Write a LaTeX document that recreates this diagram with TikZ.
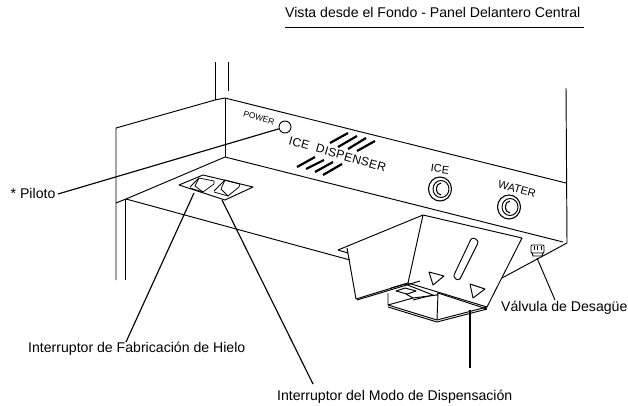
\documentclass[tikz,border=0pt]{standalone}
\usepackage{fontspec}
\setmainfont{Liberation Sans}
\newfontfamily\spacedfont[LetterSpace=3]{Liberation Sans}
\tikzset{
  ln/.style={line width=0.95pt,black,line join=round},
  thin ln/.style={line width=0.75pt,black,line join=round},
  leader/.style={line width=1.15pt,black},
  hatchbar/.style={line width=2.2pt,black},
  lbl/.style={inner sep=0pt,anchor=west,font=\fontsize{14.1}{16}\selectfont},
  paneltxt/.style={inner sep=0pt,text=black},
}
\begin{document}
\begin{tikzpicture}[x=1pt,y=-1pt]
\useasboundingbox (0,0) rectangle (628,406);
\fill[white] (0,0) rectangle (628,406);
% title
\node[lbl] (title) at (285,12) {Vista desde el Fondo - Panel Delantero Central};
\coordinate (ua) at (285,27); \coordinate (ub) at (584,27);
\draw[line width=0.8pt] (ua) -- (ub);
% cabinet
\draw[ln] (215,62) -- (215,100);
\draw[ln] (228,62) -- (228,91);
\draw[ln] (116,280) -- (116,128) -- (215,100) -- (225,98) -- (566,183);
\draw[ln] (225,98) -- (225,157);
\draw[ln] (225,157) -- (563,242);
\draw[ln] (566,88) -- (567,243) -- (502,278);
\draw[ln] (225,157) -- (126,199) -- (116,203);
\draw[ln] (126,199) -- (350,260);
\draw[ln] (125,199) -- (125,280);
% plate
\draw[ln] (179,185) -- (203,175) -- (253,187) -- (225,200) -- cycle;
\draw[thin ln] (190,187) -- (199,178) -- (214,181) -- (214,184) -- (203,192) -- (190,188);
\draw[thin ln] (199,178) -- (195,186) -- (203,192);
\draw[thin ln] (214,191) -- (225,180) -- (240,184) -- (239,187) -- (228,196) -- (214,192);
\draw[thin ln] (225,180) -- (221,189) -- (228,196);
% hatch
\foreach \a/\b/\c/\d in {330/143/348/133,338/147/357/136,348/149/366/138,357/151/375/141}
  \draw[hatchbar] (\a,\b) -- (\c,\d);
\foreach \a/\b/\c/\d in {297/167/315/157,306/169/324/160,315/172/333/162,323/175/342/164}
  \draw[hatchbar] (\a,\b) -- (\c,\d);
% panel text
\node[paneltxt,rotate=-16,font=\fontsize{8.4}{10}\selectfont] (pw) at (259,118) {POWER};
\node[paneltxt,rotate=-16,font=\fontsize{12}{14}\spacedfont] (disp) at (337.5,154) {ICE\ \ DISPENSER};
\node[paneltxt,rotate=-8,font=\fontsize{11}{13}\selectfont] (ice) at (440,169) {ICE};
\node[paneltxt,rotate=-16,font=\fontsize{11}{13}\selectfont] (wat) at (517,189) {WATER};
% power lamp
\node[draw,circle,line width=0.95pt,minimum size=12pt,inner sep=0pt] (lamp) at (285,127) {};
% buttons
\foreach \n/\x/\y in {bi/440/189,bw/509/207}{
  \draw[line width=1.1pt] (\x,\y) ellipse (11.5pt and 12pt);
  \draw[ln] (\x+1,\y) ellipse (8pt and 8.5pt);
  \draw[line width=1.1pt] (\x+1,\y-6) arc (90:270:4.5pt and 6pt);
}
% dispenser
\draw[ln] (338,250) -- (423,215) -- (522,238) -- (487,307);
\draw[ln] (338,250) -- (348,253);
\draw[ln] (347,248) -- (356,299) -- (408,283) -- (423,215);
\draw[ln] (408,283) -- (487,307);
\draw[ln] (357,300) -- (420,281);
\draw[ln] (438,293) -- (487,309);
\draw[ln,rounded corners=3pt] (472,237) -- (479,241) -- (459,281) -- (453,277) -- cycle;
\draw[ln] (429,272) -- (444,276) -- (433,285) -- cycle;
\draw[ln] (470,284) -- (485,289) -- (473,298) -- cycle;
% lower tray
\draw[ln] (388,293) -- (388,305) -- (437,320) -- (487,307);
\draw[ln] (388,307) -- (437,322) -- (487,309);
\draw[ln] (388,305) -- (413,298) -- (437,295) -- (438,293) -- (437,320);
\draw[ln] (391,288) -- (405,284) -- (433,295) -- (413,300);
\draw[ln] (396,291) -- (405,288) -- (416,291) -- (407,294) -- cycle;
\draw[ln] (413,298) -- (406,294) ;
% drain
\draw[ln,rounded corners=1pt] (531,245) rectangle (544,253);
\draw[ln] (532,253) -- (533,256) -- (542,256) -- (543,253);
\draw[thin ln] (534,246) -- (534,250) (537.5,246) -- (537.5,250) (541,246) -- (541,250);
% labels
\node[lbl] (pil) at (10.5,193) {* Piloto};
\node[lbl] (hie) at (28,349) {Interruptor de Fabricación de Hielo};
\node[lbl] (dis) at (277,397) {Interruptor del Modo de Dispensación};
\node[lbl] (val) at (501,308) {Válvula de Desagüe};
% leaders
\coordinate (pe) at (58,194);
\coordinate (h1) at (194,193); \coordinate (h2) at (126,342);
\coordinate (d1) at (222,200); \coordinate (d2) at (313,384);
\coordinate (m1) at (470,310); \coordinate (m2) at (470,368);
\coordinate (v1) at (537,258); \coordinate (v2) at (555,300);
\draw[leader] (pe) -- (lamp);
\draw[leader] (h1) -- (h2);
\draw[leader] (d1) -- (d2);
\draw[leader] (m1) -- (m2);
\draw[ln] (v1) -- (v2);
\end{tikzpicture}
\end{document}
